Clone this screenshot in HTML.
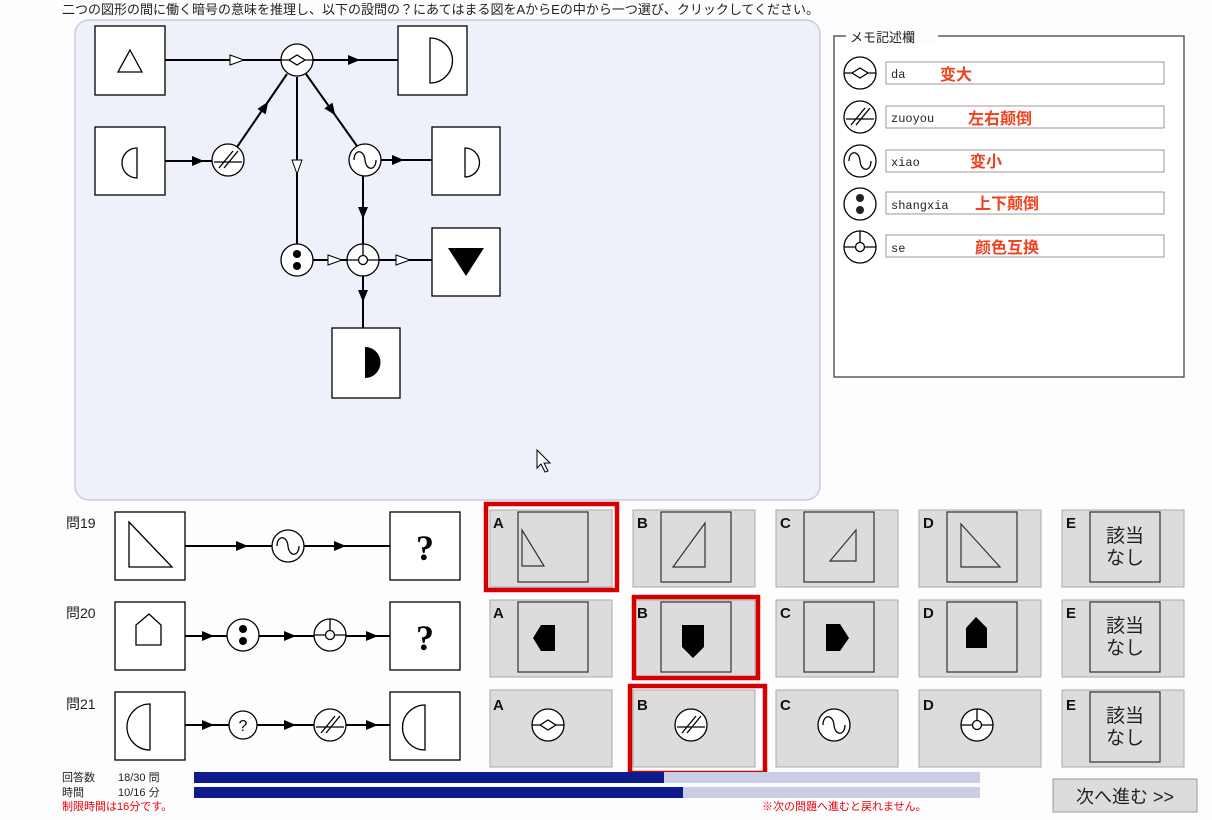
<!DOCTYPE html>
<html><head><meta charset="utf-8"><style>
html,body{margin:0;padding:0;background:#fdfdff;}
body{width:1212px;height:820px;overflow:hidden;position:relative;font-family:"Liberation Sans","Noto Sans CJK JP",sans-serif;}
svg{position:absolute;left:0;top:0}
</style></head><body>
<svg width="1212" height="820" viewBox="0 0 1212 820" xmlns="http://www.w3.org/2000/svg">
<defs>
<g id="da"><circle r="16" fill="#fff" stroke="#000" stroke-width="1.3"/><path d="M-16 0H-8M8 0H16M-8 0L0 -5L8 0L0 5Z" fill="none" stroke="#000" stroke-width="1.3"/></g>
<g id="zy"><circle r="16" fill="#fff" stroke="#000" stroke-width="1.3"/><path d="M-14 2H14M-9 8L5 -9M-4 8L10 -9" fill="none" stroke="#000" stroke-width="1.3"/></g>
<g id="xi"><circle r="16" fill="#fff" stroke="#000" stroke-width="1.3"/><path d="M-11 0C-11 -11 -1 -11 0 0C1 11 11 11 11 0" fill="none" stroke="#000" stroke-width="1.3"/></g>
<g id="sx"><circle r="16" fill="#fff" stroke="#000" stroke-width="1.3"/><circle cy="-6" r="4"/><circle cy="6" r="4"/></g>
<g id="se"><circle r="16" fill="#fff" stroke="#000" stroke-width="1.3"/><circle r="4.5" fill="#fff" stroke="#000" stroke-width="1.3"/><path d="M-16 0H-4.5M4.5 0H16M0 -16V-4.5" stroke="#000" stroke-width="1.3"/></g>
<g id="qm"><circle r="14" fill="#fff" stroke="#000" stroke-width="1.3"/><text x="0" y="6" text-anchor="middle" font-size="16" font-family="Liberation Sans">?</text></g>
<polygon id="af" points="-8,-5 4,0 -8,5" fill="#000"/>
<polygon id="ah" points="-8,-5 6,0 -8,5" fill="#fff" stroke="#000" stroke-width="1"/>
</defs>

<text x="62" y="14" font-size="13" fill="#222" font-family="Liberation Sans,Noto Sans CJK JP,sans-serif">二つの図形の間に働く暗号の意味を推理し、以下の設問の？にあてはまる図をAからEの中から一つ選び、クリックしてください。</text>

<rect x="75" y="20" width="745" height="480" rx="14" fill="#eef0fa" stroke="#c6cbe6" stroke-width="1.5"/>

<g stroke="#000" stroke-width="2" fill="none">
<path d="M165 60H398"/>
<path d="M165 161H212"/>
<path d="M237 147L287 74"/>
<path d="M297 77V244"/>
<path d="M306 74L357 146"/>
<path d="M381 160H432"/>
<path d="M363 176V244"/>
<path d="M313 260H347M379 260H432"/>
<path d="M363 276V328"/>
</g>
<use href="#ah" x="238" y="60"/>
<use href="#af" x="356" y="60"/>
<use href="#af" x="200" y="161"/>
<use href="#af" transform="translate(266,105) rotate(-56)"/>
<use href="#af" transform="translate(333,112) rotate(55)"/>
<use href="#ah" transform="translate(297,168) rotate(90)"/>
<use href="#af" x="400" y="160"/>
<use href="#af" transform="translate(363,215) rotate(90)"/>
<use href="#ah" x="336" y="260"/>
<use href="#ah" x="404" y="260"/>
<use href="#af" transform="translate(363,298) rotate(90)"/>

<g fill="#fff" stroke="#000" stroke-width="1.3">
<rect x="95" y="26" width="70" height="69"/>
<rect x="398" y="26" width="69" height="69"/>
<rect x="95" y="127" width="70" height="68"/>
<rect x="432" y="127" width="68" height="68"/>
<rect x="432" y="228" width="68" height="68"/>
<rect x="332" y="328" width="68" height="70"/>
</g>
<polygon points="130,50 142,72 118,72" fill="none" stroke="#000" stroke-width="1.3"/>
<path d="M430 38V83A22 22 0 0 0 430 38Z" fill="none" stroke="#000" stroke-width="1.3"/>
<path d="M137 148V178A15 15 0 0 1 137 148Z" fill="none" stroke="#000" stroke-width="1.3"/>
<path d="M465 148V177A14.5 14.5 0 0 0 465 148Z" fill="none" stroke="#000" stroke-width="1.3"/>
<polygon points="448,248 484,248 466,276" fill="#000"/>
<path d="M365 347V378A15.5 15.5 0 0 0 365 347Z" fill="#000"/>

<use href="#da" x="297" y="60"/>
<use href="#zy" x="228" y="160"/>
<use href="#xi" x="365" y="160"/>
<use href="#sx" x="297" y="260"/>
<use href="#se" x="363" y="260"/>

<path d="M537 450l0 18l4-4l4 8l3-1l-4-8l6 0z" fill="#fff" stroke="#000" stroke-width="1"/>

<rect x="834" y="36" width="350" height="341" fill="#fff" stroke="#444" stroke-width="1.3"/>
<rect x="846" y="28" width="92" height="16" fill="#fdfdff"/>
<text x="850" y="42" font-size="13" fill="#222">メモ記述欄</text>
<g font-size="12" font-family="Liberation Mono,monospace" fill="#222">
<rect x="886" y="62" width="278" height="22" fill="#fff" stroke="#999"/><use href="#da" x="860" y="73"/><text x="891" y="78">da</text>
<rect x="886" y="106" width="278" height="22" fill="#fff" stroke="#999"/><use href="#zy" x="860" y="117"/><text x="891" y="122">zuoyou</text>
<rect x="886" y="150" width="278" height="22" fill="#fff" stroke="#999"/><use href="#xi" x="860" y="161"/><text x="891" y="166">xiao</text>
<rect x="886" y="192" width="278" height="22" fill="#fff" stroke="#999"/><use href="#sx" x="860" y="204"/><text x="891" y="209">shangxia</text>
<rect x="886" y="235" width="278" height="22" fill="#fff" stroke="#999"/><use href="#se" x="860" y="247"/><text x="891" y="252">se</text>
</g>
<g font-size="16" font-weight="bold" fill="#f0401e" font-family="Liberation Sans,Noto Sans CJK SC,sans-serif">
<text x="940" y="80">变大</text>
<text x="968" y="124">左右颠倒</text>
<text x="970" y="167">变小</text>
<text x="975" y="209">上下颠倒</text>
<text x="975" y="253">颜色互换</text>
</g>

<g font-size="14" fill="#222"><text x="66" y="528">問19</text><text x="66" y="618">問20</text><text x="66" y="709">問21</text></g>
<g stroke="#000" stroke-width="2"><path d="M185 546H390"/><path d="M185 636H390"/><path d="M185 725H390"/></g>
<use href="#af" x="244" y="546"/><use href="#af" x="342" y="546"/>
<use href="#af" x="210" y="636"/><use href="#af" x="292" y="636"/><use href="#af" x="374" y="636"/>
<use href="#af" x="210" y="725"/><use href="#af" x="292" y="725"/><use href="#af" x="374" y="725"/>
<g fill="#fff" stroke="#000" stroke-width="1.3">
<rect x="115" y="512" width="70" height="68"/><rect x="390" y="512" width="70" height="68"/>
<rect x="115" y="602" width="70" height="68"/><rect x="390" y="602" width="70" height="68"/>
<rect x="115" y="692" width="70" height="68"/><rect x="390" y="692" width="70" height="68"/>
</g>
<polygon points="129,522 172,567 129,567" fill="none" stroke="#000" stroke-width="1.3"/>
<polygon points="136,645 136,625 149,614 161,625 161,645" fill="none" stroke="#000" stroke-width="1.3"/>
<path d="M150 704V750A23 23 0 0 1 150 704Z" fill="none" stroke="#000" stroke-width="1.3"/>
<path d="M425 705V750A22.5 22.5 0 0 1 425 705Z" fill="none" stroke="#000" stroke-width="1.3"/>
<g font-size="36" font-weight="bold" font-family="Liberation Serif,serif" text-anchor="middle"><text x="425" y="560">?</text><text x="425" y="650">?</text></g>
<use href="#xi" x="288" y="546"/>
<use href="#sx" x="243" y="635"/><use href="#se" x="330" y="635"/>
<use href="#qm" x="243" y="725"/><use href="#zy" x="330" y="725"/>

<g>
<g fill="#dcdcdc" stroke="#aaa" stroke-width="1">
<rect x="490" y="510" width="122" height="77"/><rect x="633" y="510" width="122" height="77"/><rect x="776" y="510" width="122" height="77"/><rect x="919" y="510" width="122" height="77"/><rect x="1062" y="510" width="122" height="77"/>
<rect x="490" y="600" width="122" height="77"/><rect x="633" y="600" width="122" height="77"/><rect x="776" y="600" width="122" height="77"/><rect x="919" y="600" width="122" height="77"/><rect x="1062" y="600" width="122" height="77"/>
<rect x="490" y="690" width="122" height="77"/><rect x="633" y="690" width="122" height="77"/><rect x="776" y="690" width="122" height="77"/><rect x="919" y="690" width="122" height="77"/><rect x="1062" y="690" width="122" height="77"/>
</g>
<g fill="none" stroke="#333" stroke-width="1.2">
<rect x="518" y="512" width="70" height="70"/><rect x="661" y="512" width="70" height="70"/><rect x="804" y="512" width="70" height="70"/><rect x="947" y="512" width="70" height="70"/><rect x="1090" y="512" width="70" height="70"/>
<rect x="518" y="602" width="70" height="70"/><rect x="661" y="602" width="70" height="70"/><rect x="804" y="602" width="70" height="70"/><rect x="947" y="602" width="70" height="70"/><rect x="1090" y="602" width="70" height="70"/>
<rect x="1090" y="692" width="70" height="70"/>
</g>
<g font-size="15" font-weight="bold" fill="#111">
<text x="493" y="528">A</text><text x="637" y="528">B</text><text x="780" y="528">C</text><text x="923" y="528">D</text><text x="1066" y="528">E</text>
<text x="493" y="618">A</text><text x="637" y="618">B</text><text x="780" y="618">C</text><text x="923" y="618">D</text><text x="1066" y="618">E</text>
<text x="493" y="710">A</text><text x="637" y="710">B</text><text x="780" y="710">C</text><text x="923" y="710">D</text><text x="1066" y="710">E</text>
</g>
<g font-size="19" fill="#222" text-anchor="middle" font-family="Liberation Sans,Noto Sans CJK JP,sans-serif">
<text x="1125" y="542">該当</text><text x="1125" y="564">なし</text>
<text x="1125" y="632">該当</text><text x="1125" y="654">なし</text>
<text x="1125" y="722">該当</text><text x="1125" y="744">なし</text>
</g>
<g fill="none" stroke="#333" stroke-width="1.2">
<polygon points="522,530 544,566 522,566"/>
<polygon points="705,523 705,567 673,567"/>
<polygon points="856,530 856,561 830,561"/>
<polygon points="961,524 1000,567 961,567"/>
</g>
<g fill="#000">
<polygon points="541,625 555,625 555,651 541,651 533,638"/>
<polygon points="682,625 704,625 704,647 693,658 682,647"/>
<polygon points="826,624 840,624 849,638 840,651 826,651"/>
<polygon points="966,648 966,628 976,617 987,628 987,648"/>
</g>
<use href="#da" x="548" y="725"/><use href="#zy" x="691" y="725"/><use href="#xi" x="834" y="725"/><use href="#se" x="977" y="725"/>
</g>

<g fill="none" stroke="#d40000" stroke-width="4.5">
<rect x="486" y="504" width="131" height="86"/>
<rect x="634" y="597" width="124" height="81"/>
<rect x="630" y="686" width="135" height="87"/>
</g>

<g font-size="11" fill="#222">
<text x="62" y="781">回答数</text><text x="118" y="781">18/30 問</text>
<text x="62" y="796">時間</text><text x="118" y="796">10/16 分</text>
</g>
<text x="62" y="810" font-size="11" fill="#e00">制限時間は16分です。</text>
<text x="762" y="810" font-size="11" fill="#e00">※次の問題へ進むと戻れません。</text>
<rect x="194" y="772" width="786" height="11" fill="#c9cde6"/>
<rect x="194" y="772" width="470" height="11" fill="#0d1b8c"/>
<rect x="194" y="787" width="786" height="11" fill="#c9cde6"/>
<rect x="194" y="787" width="489" height="11" fill="#0d1b8c"/>
<rect x="1053" y="779" width="144" height="33" fill="#dcdcdc" stroke="#999"/>
<text x="1125" y="803" font-size="18" text-anchor="middle" fill="#222">次へ進む &gt;&gt;</text>
</svg>
</body></html>
